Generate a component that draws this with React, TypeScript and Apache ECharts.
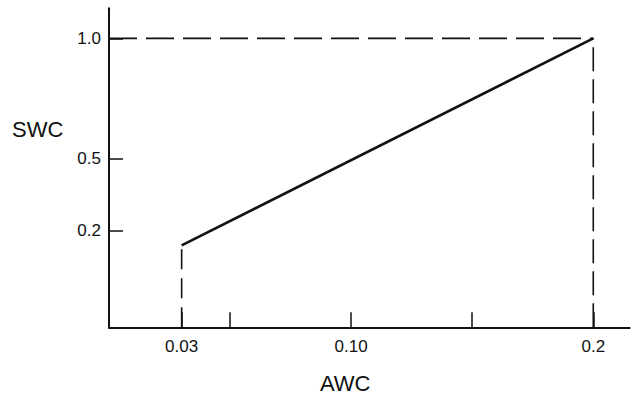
import React, { useEffect, useRef } from 'react';
import * as echarts from 'echarts';

// AWC (x) axis
const awcTickValues = [0.03, 0.05, 0.10, 0.15, 0.20];
const awcLabelValues = [0.03, 0.10, 0.20];
const awcLabelTexts = ['0.03', '0.10', '0.2'];

// SWC (y) axis
const swcLabelValues = [0.2, 0.5, 1.0];
const swcLabelTexts = ['0.2', '0.5', '1.0'];

// main relation
const awcLine = [0.03, 0.20];
const swcLine = [0.14, 1.0];

// dashed guide lines
const guideLowX = [0.03, 0.03];
const guideLowY = [-0.2, 0.14];
const guideHighX = [0.20, 0.20];
const guideHighY = [-0.2, 1.0];
const guideTopX = [0, 0.20];
const guideTopY = [1.0, 1.0];

const FONT = '"Liberation Sans", Arial, Helvetica, sans-serif';
const INK = '#111';

const pick = (vals: number[], texts: string[]) => (v: number) => {
  const i = vals.findIndex((x) => Math.abs(x - v) < 1e-9);
  return i >= 0 ? texts[i] : '';
};

const zip = (xs: number[], ys: number[]) => xs.map((x, i) => [x, ys[i]]);

export default function App() {
  const ref = useRef<HTMLDivElement>(null);
  useEffect(() => {
    if (!ref.current) return;
    const chart = echarts.init(ref.current, undefined, { renderer: 'svg' });
    const dashed = (data: number[][], dash: number[]) => ({
      type: 'line',
      data,
      symbol: 'none',
      silent: true,
      lineStyle: { color: INK, width: 1.6, type: dash },
    });
    chart.setOption({
      animation: false,
      backgroundColor: '#fff',
      grid: { left: 109, right: 6.4, top: 8.3, bottom: 71.7, containLabel: false, outerBoundsMode: 'none' },
      xAxis: {
        type: 'value',
        min: 0,
        max: 0.215,
        axisLine: { onZero: false, lineStyle: { color: INK, width: 2 } },
        axisTick: { show: true, inside: true, length: 15, customValues: awcTickValues, lineStyle: { color: INK, width: 1.5 } },
        axisLabel: {
          customValues: awcLabelValues,
          formatter: pick(awcLabelValues, awcLabelTexts),
          margin: 11,
          fontSize: 17,
          color: INK,
          fontFamily: FONT,
        },
        splitLine: { show: false },
      },
      yAxis: {
        type: 'value',
        min: -0.2,
        max: 1.125,
        axisLine: { show: true, onZero: false, lineStyle: { color: INK, width: 2 } },
        axisTick: { show: true, inside: true, length: 14, customValues: swcLabelValues, lineStyle: { color: INK, width: 1.5 } },
        axisLabel: {
          customValues: swcLabelValues,
          formatter: pick(swcLabelValues, swcLabelTexts),
          margin: 8,
          fontSize: 17,
          color: INK,
          fontFamily: FONT,
        },
        splitLine: { show: false },
      },
      graphic: [
        { type: 'text', left: 12, top: 118, style: { text: 'SWC', font: `22px ${FONT}`, fill: INK } },
        { type: 'text', left: 320, top: 372, style: { text: 'AWC', font: `22px ${FONT}`, fill: INK } },
      ],
      series: [
        dashed(zip(guideLowX, guideLowY), [20, 9]),
        dashed(zip(guideHighX, guideHighY), [24, 8]),
        dashed(zip(guideTopX, guideTopY), [28, 9]),
        {
          type: 'line',
          data: zip(awcLine, swcLine),
          symbol: 'none',
          silent: true,
          lineStyle: { color: INK, width: 2.6 },
        },
      ],
    });
    return () => chart.dispose();
  }, []);
  return <div ref={ref} style={{ position: 'fixed', left: 0, top: 0, width: 636, height: 399, background: '#fff' }} />;
}
